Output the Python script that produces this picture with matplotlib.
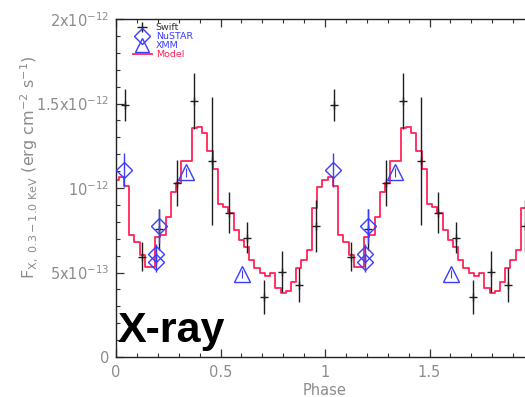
import numpy as np
import matplotlib.pyplot as plt
from matplotlib.lines import Line2D
from matplotlib.ticker import MultipleLocator

# one phase cycle of each data set; fluxes in units of 1e-13 erg cm^-2 s^-1
swift_phase = [0.042, 0.125, 0.208, 0.292, 0.375, 0.458, 0.542, 0.625, 0.708, 0.792, 0.875, 0.958]
swift_flux = [14.91, 5.94, 7.55, 10.31, 15.15, 11.60, 8.54, 7.06, 3.57, 5.05, 4.26, 7.75]
swift_err = [0.94, 0.85, 1.20, 1.37, 1.63, 3.80, 1.23, 0.90, 1.00, 1.20, 1.00, 1.53]

nustar_phase = [0.038, 0.204, 0.190, 0.190]
nustar_flux = [11.07, 7.75, 6.09, 5.64]
nustar_err = [1.00, 1.00, 0.60, 0.60]

xmm_phase = [0.333, 0.604]
xmm_flux = [10.92, 4.92]
xmm_err = [0.25, 0.25]

# model light curve, 40 bins per cycle
model_flux = [10.47, 10.63, 10.14, 7.22, 6.82, 6.04, 5.35, 5.35, 7.12, 7.20,
              8.30, 9.78, 10.31, 11.61, 11.61, 13.53, 13.63, 13.24, 12.21, 11.11,
              9.04, 8.89, 8.50, 7.51, 6.92, 6.53, 5.74, 5.25, 4.95, 4.81,
              4.95, 4.06, 3.80, 3.92, 4.46, 5.25, 5.74, 6.33, 8.80, 10.04]

ytick_vals = [0, 5e-13, 1e-12, 1.5e-12, 2e-12]
ytick_labels = ['0', '5x10$^{-13}$', '10$^{-12}$', '1.5x10$^{-12}$', '2x10$^{-12}$']
xtick_vals = [0, 0.5, 1, 1.5]
xtick_labels = ['0', '0.5', '1', '1.5']

red = '#ff2458'
blue = '#3c3cff'
gray = '#8c8c8c'
dark = '#1e1e1e'
scale = 1e-13


def two_cycles(vals, shift=0.0):
    # phase-folded data are shown twice, second copy offset by one phase
    vals = np.asarray(vals, dtype=float)
    return np.concatenate([vals, vals + shift])


fig = plt.figure(figsize=(5.25, 3.97), dpi=100)
ax = fig.add_axes([116 / 525, 40 / 397, 418 / 525, 338 / 397])

# model as steps (bins centred on multiples of 0.025)
mf = np.asarray(model_flux)
model_y = np.concatenate([mf, mf, mf[:1]]) * scale
model_x = np.arange(len(model_y)) * 0.025
ax.step(model_x, model_y, where='mid', color=red, lw=1.3, zorder=2)

ax.errorbar(two_cycles(swift_phase, 1), two_cycles(swift_flux) * scale,
            yerr=two_cycles(swift_err) * scale, fmt='+', color=dark,
            ms=6, mew=1.0, elinewidth=1.0, capsize=0, zorder=3)
ax.errorbar(two_cycles(nustar_phase, 1), two_cycles(nustar_flux) * scale,
            yerr=two_cycles(nustar_err) * scale, fmt='D', mfc='none', mec=blue,
            color=blue, ms=8.5, mew=1.0, elinewidth=1.0, capsize=0, zorder=4)
ax.errorbar(two_cycles(xmm_phase, 1), two_cycles(xmm_flux) * scale,
            yerr=two_cycles(xmm_err) * scale, fmt='^', mfc='none', mec=blue,
            color=blue, ms=11.5, mew=1.0, elinewidth=0.8, capsize=0, zorder=4)

ax.set_xlim(0, 2)
ax.set_ylim(0, 2e-12)
ax.set_yticks(ytick_vals)
ax.set_yticklabels(ytick_labels)
ax.set_xticks(xtick_vals)
ax.set_xticklabels(xtick_labels)
ax.xaxis.set_minor_locator(MultipleLocator(0.1))
ax.yaxis.set_minor_locator(MultipleLocator(1e-13))
ax.tick_params(which='both', direction='in', top=True, right=True,
               color='#333333', labelcolor=gray, labelsize=10.5)
ax.tick_params(which='major', length=6, width=0.9)
ax.tick_params(which='minor', length=3, width=0.8)
ax.tick_params(axis='x', pad=6)
ax.tick_params(axis='y', pad=5)
for s in ax.spines.values():
    s.set_color('#222222')
    s.set_linewidth(1.0)

ax.set_xlabel('Phase', color=gray, fontsize=10.5, labelpad=2)
fig.text(29 / 525, 1 - 167 / 397,
         r'F$_{\mathregular{X,\ 0.3-1.0\ KeV}}$ (erg cm$^{-2}$ s$^{-1}$)',
         rotation=90, ha='center', va='center', color=gray, fontsize=11.5)

handles = [
    Line2D([], [], ls='none', marker='+', color=dark, ms=7, mew=1.0),
    Line2D([], [], ls='none', marker='D', mfc='none', mec=blue, ms=8, mew=1.0),
    Line2D([], [], ls='none', marker='^', mfc='none', mec=blue, ms=10, mew=1.0),
    Line2D([], [], color=red, lw=1.3),
]
leg = ax.legend(handles, ['Swift', 'NuSTAR', 'XMM', 'Model'], loc='upper left',
                bbox_to_anchor=(133 / 525, 1 - 23 / 397), bbox_transform=fig.transFigure,
                frameon=False, fontsize=6.8, labelspacing=0.0, handlelength=2.0,
                handletextpad=0.4, borderpad=0, borderaxespad=0,
                labelcolor=['#333333', blue, blue, red])

fig.text(118 / 525, 1 - 342 / 397, 'X-ray', fontsize=31, fontweight='bold',
         family='Liberation Sans', ha='left', va='baseline', color='black')

fig.savefig('out.png', dpi=100)
